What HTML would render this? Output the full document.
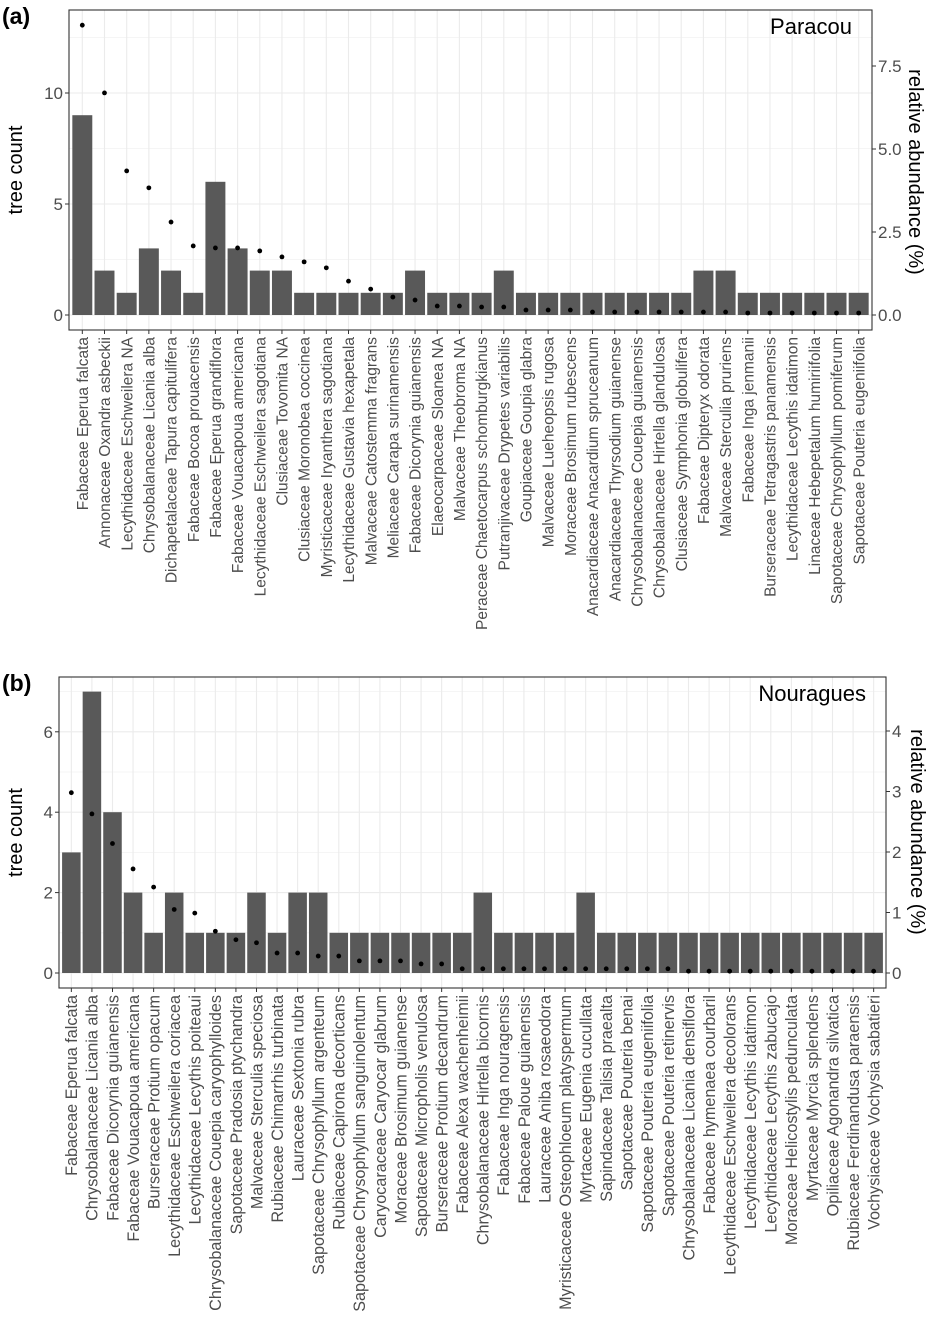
<!DOCTYPE html>
<html><head><meta charset="utf-8"><style>
body{margin:0;background:#fff;}
svg text{font-family:"Liberation Sans",Arial,sans-serif;}
</style></head><body>
<svg id="c" width="944" height="1334" xmlns="http://www.w3.org/2000/svg"></svg>
<script>
const catsA=["Fabaceae Eperua falcata","Annonaceae Oxandra asbeckii","Lecythidaceae Eschweilera NA","Chrysobalanaceae Licania alba","Dichapetalaceae Tapura capitulifera","Fabaceae Bocoa prouacensis","Fabaceae Eperua grandiflora","Fabaceae Vouacapoua americana","Lecythidaceae Eschweilera sagotiana","Clusiaceae Tovomita NA","Clusiaceae Moronobea coccinea","Myristicaceae Iryanthera sagotiana","Lecythidaceae Gustavia hexapetala","Malvaceae Catostemma fragrans","Meliaceae Carapa surinamensis","Fabaceae Dicorynia guianensis","Elaeocarpaceae Sloanea NA","Malvaceae Theobroma NA","Peraceae Chaetocarpus schomburgkianus","Putranjivaceae Drypetes variabilis","Goupiaceae Goupia glabra","Malvaceae Lueheopsis rugosa","Moraceae Brosimum rubescens","Anacardiaceae Anacardium spruceanum","Anacardiaceae Thyrsodium guianense","Chrysobalanaceae Couepia guianensis","Chrysobalanaceae Hirtella glandulosa","Clusiaceae Symphonia globulifera","Fabaceae Dipteryx odorata","Malvaceae Sterculia pruriens","Fabaceae Inga jenmanii","Burseraceae Tetragastris panamensis","Lecythidaceae Lecythis idatimon","Linaceae Hebepetalum humiriifolia","Sapotaceae Chrysophyllum pomiferum","Sapotaceae Pouteria eugeniifolia"];
const countsA=[9,2,1,3,2,1,6,3,2,2,1,1,1,1,1,2,1,1,1,2,1,1,1,1,1,1,1,1,2,2,1,1,1,1,1,1];
const relA=[8.73,6.69,4.34,3.83,2.8,2.08,2.02,2.02,1.93,1.75,1.6,1.42,1.02,0.78,0.54,0.45,0.27,0.27,0.24,0.24,0.15,0.15,0.15,0.09,0.09,0.09,0.09,0.09,0.09,0.09,0.06,0.06,0.06,0.06,0.06,0.06];
const leftTicksA=[0,5,10];
const rightTicksA=[0,2.5,5,7.5];
const rightLabA=["0.0","2.5","5.0","7.5"];
const catsB=["Fabaceae Eperua falcata","Chrysobalanaceae Licania alba","Fabaceae Dicorynia guianensis","Fabaceae Vouacapoua americana","Burseraceae Protium opacum","Lecythidaceae Eschweilera coriacea","Lecythidaceae Lecythis poiteaui","Chrysobalanaceae Couepia caryophylloides","Sapotaceae Pradosia ptychandra","Malvaceae Sterculia speciosa","Rubiaceae Chimarrhis turbinata","Lauraceae Sextonia rubra","Sapotaceae Chrysophyllum argenteum","Rubiaceae Capirona decorticans","Sapotaceae Chrysophyllum sanguinolentum","Caryocaraceae Caryocar glabrum","Moraceae Brosimum guianense","Sapotaceae Micropholis venulosa","Burseraceae Protium decandrum","Fabaceae Alexa wachenheimii","Chrysobalanaceae Hirtella bicornis","Fabaceae Inga nouragensis","Fabaceae Paloue guianensis","Lauraceae Aniba rosaeodora","Myristicaceae Osteophloeum platyspermum","Myrtaceae Eugenia cucullata","Sapindaceae Talisia praealta","Sapotaceae Pouteria benai","Sapotaceae Pouteria eugeniifolia","Sapotaceae Pouteria retinervis","Chrysobalanaceae Licania densiflora","Fabaceae hymenaea courbaril","Lecythidaceae Eschweilera decolorans","Lecythidaceae Lecythis idatimon","Lecythidaceae Lecythis zabucajo","Moraceae Helicostylis pedunculata","Myrtaceae Myrcia splendens","Opiliaceae Agonandra silvatica","Rubiaceae Ferdinandusa paraensis","Vochysiaceae Vochysia sabatieri"];
const countsB=[3,7,4,2,1,2,1,1,1,2,1,2,2,1,1,1,1,1,1,1,2,1,1,1,1,2,1,1,1,1,1,1,1,1,1,1,1,1,1,1];
const relB=[2.98,2.63,2.14,1.72,1.42,1.05,0.99,0.69,0.55,0.5,0.33,0.33,0.28,0.28,0.2,0.2,0.2,0.15,0.15,0.07,0.07,0.07,0.07,0.07,0.07,0.07,0.07,0.07,0.07,0.07,0.03,0.03,0.03,0.03,0.03,0.03,0.03,0.03,0.03,0.03];
const leftTicksB=[0,2,4,6];
const rightTicksB=[0,1,2,3,4];
const rightLabB=["0","1","2","3","4"];

const svg=document.getElementById('c');
const NS="http://www.w3.org/2000/svg";
function mk(t,a,p){const e=document.createElementNS(NS,t);for(const k in a)e.setAttribute(k,a[k]);(p||svg).appendChild(e);return e;}

function panel(o){
  const g=mk('g',{});
  
  
  const n=o.cats.length;
  const step=(o.x1-o.x0)/(n+0.2);
  const xc=i=>o.x0+step*(0.6+i);
  const yL=v=>o.y0base-v*o.pxL;
  const yR=v=>o.y0base-v*o.pxR;
  const d=o.lt[1]-o.lt[0];
  for(let v=o.lt[0]-d/2; v<o.lt[o.lt.length-1]+d*2; v+=d){
    if(yL(v)>o.y0 && yL(v)<o.y1) mk('line',{x1:o.x0,x2:o.x1,y1:yL(v),y2:yL(v),stroke:'#f2f2f2','stroke-width':0.8},g);
  }
  o.lt.forEach(v=>mk('line',{x1:o.x0,x2:o.x1,y1:yL(v),y2:yL(v),stroke:'#ebebeb','stroke-width':1.1},g));
  for(let i=0;i<n;i++) mk('line',{x1:xc(i),x2:xc(i),y1:o.y0,y2:o.y1,stroke:'#ebebeb','stroke-width':1.1},g);
  for(let i=0;i<n;i++){
    const b=mk('rect',{x:xc(i)-step*0.45,y:yL(o.counts[i]),width:step*0.9,height:o.counts[i]*o.pxL,fill:'#595959'},g);
    
    
  }
  for(let i=0;i<n;i++){
    const p=mk('circle',{cx:xc(i),cy:yR(o.rel[i]),r:2.4,fill:'#000'},g);
    
    
  }
  mk('rect',{x:o.x0,y:o.y0,width:o.x1-o.x0,height:o.y1-o.y0,fill:'none',stroke:'#333','stroke-width':1.1},g);
  o.lt.forEach(v=>{
    mk('line',{x1:o.x0-4,x2:o.x0,y1:yL(v),y2:yL(v),stroke:'#333'},g);
    const t=mk('text',{x:o.x0-6,y:yL(v)+6,'text-anchor':'end','font-size':17,fill:'#4d4d4d'},g);t.textContent=v;
    
    
  });
  o.rt.forEach((v,i)=>{
    mk('line',{x1:o.x1,x2:o.x1+4,y1:yR(v),y2:yR(v),stroke:'#333'},g);
    const t=mk('text',{x:o.x1+6,y:yR(v)+6,'font-size':17,fill:'#4d4d4d'},g);t.textContent=o.rl[i];
    
    
  });
  for(let i=0;i<n;i++){
    mk('line',{x1:xc(i),x2:xc(i),y1:o.y1,y2:o.y1+4,stroke:'#333'},g);
    const t=mk('text',{x:0,y:0,'text-anchor':'end','font-size':o.fs,fill:'#4d4d4d',transform:`translate(${xc(i)+o.fs*0.36},${o.y1+7}) rotate(-90)`},g);
    t.textContent=o.cats[i];
    
    
  }
  const ym=(o.y0+o.y1)/2;
  let t=mk('text',{x:0,y:0,'text-anchor':'middle','font-size':20,fill:'#000',transform:`translate(${o.ltx},${ym}) rotate(-90)`},g);t.textContent='tree count';
  
  
  t=mk('text',{x:0,y:0,'text-anchor':'middle','font-size':20,fill:'#000',transform:`translate(${o.rtx},${o.rty}) rotate(90)`},g);t.textContent='relative abundance (%)';
  
  
  t=mk('text',{x:o.x1-20,y:o.y0+24,'text-anchor':'end','font-size':22,fill:'#000'},g);t.textContent=o.site;
  
  
  t=mk('text',{x:2,y:o.y0+14,'font-size':23,'font-weight':'bold',fill:'#000'},g);t.textContent=o.tag;
  
  
}
panel({name:'panel-a-paracou',cats:catsA,counts:countsA,rel:relA,lt:leftTicksA,rt:rightTicksA,rl:rightLabA,x0:69,x1:872,y0:10,y1:330,y0base:315,pxL:22.2,pxR:33.2,ltx:22,rtx:909,rty:172,site:'Paracou',tag:'(a)',fs:15.5});
panel({name:'panel-b-nouragues',cats:catsB,counts:countsB,rel:relB,lt:leftTicksB,rt:rightTicksB,rl:rightLabB,x0:59,x1:886,y0:677,y1:988,y0base:973,pxL:40.2,pxR:60.5,ltx:22,rtx:911,rty:832,site:'Nouragues',tag:'(b)',fs:16.2});
</script>
</body></html>
